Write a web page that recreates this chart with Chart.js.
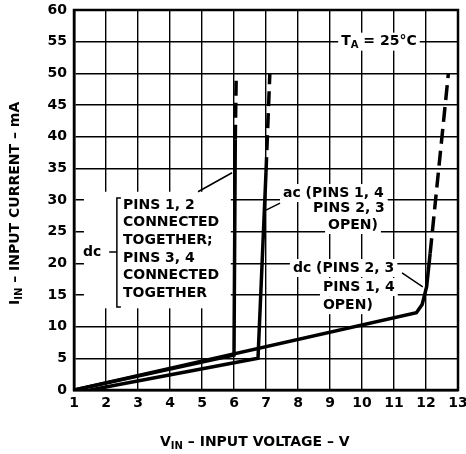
<!DOCTYPE html>
<html><head><meta charset="utf-8">
<script src="https://cdn.jsdelivr.net/npm/chart.js@4.4.1/dist/chart.umd.min.js"></script>
<style>html,body{margin:0;padding:0;background:#fff}canvas{display:block}</style>
</head><body>
<canvas id="c" width="466" height="454"></canvas>
<script>
// axis ranges / ticks
const xTicks = [1,2,3,4,5,6,7,8,9,10,11,12,13];
const yTicks = [0,5,10,15,20,25,30,35,40,45,50,55,60];

// dc, pins 1,2 and 3,4 connected together
const dcTogetherV = [1, 6.0, 6.04, 6.07];
const dcTogetherI = [0, 5.5, 39.5, 50];
// ac, pins 1,4 / pins 2,3 open
const acV = [1.5, 6.75, 7.0, 7.12];
const acI = [0, 5.0, 34.4, 50];
// dc, pins 2,3 / pins 1,4 open
const dcOpenV = [1, 11.7, 11.88, 12.02, 12.13, 12.7];
const dcOpenI = [0, 12.2, 13.5, 16.3, 21.6, 50];
// current above which each curve is dashed
const dashAbove = [39.5, 34.4, 21.6];

const FONT = 'bold 14px "DejaVu Sans"';
const SUB = 'bold 10px "DejaVu Sans"';

function pts(vs, is){ return vs.map((v,k)=>({x:v, y:is[k]})); }
function curve(vs, is, lim){
  return {
    data: pts(vs, is), borderColor:'#000', borderWidth:3.5, pointRadius:0, tension:0, fill:false,
    segment:{ borderDash: ctx => ctx.p0.parsed.y >= lim - 0.01 ? [15,7] : [] }
  };
}

// draw a line of text made of normal / subscript parts, baseline middle
function rich(ctx, parts, x, y, bg){
  let w = 0;
  parts.forEach(p => { ctx.font = p.sub ? SUB : FONT; w += ctx.measureText(p.t).width; });
  if(bg){ ctx.fillStyle='#fff'; ctx.fillRect(x-3, y-9, w+6, 18); }
  ctx.fillStyle='#000'; ctx.textBaseline='middle'; ctx.textAlign='left';
  let cx = x;
  parts.forEach(p => {
    ctx.font = p.sub ? SUB : FONT;
    ctx.fillText(p.t, cx, y + (p.sub ? 4 : 0));
    cx += ctx.measureText(p.t).width;
  });
}
const T = t => [{t}];

const notes = {
  id:'notes',
  afterDatasetsDraw(chart){
    const {ctx, chartArea:a} = chart;
    const X = v => chart.scales.x.getPixelForValue(v);
    const Y = i => chart.scales.y.getPixelForValue(i);
    ctx.save();
    // frame
    ctx.strokeStyle='#000'; ctx.lineWidth=2.5;
    ctx.strokeRect(a.left, a.top, a.right-a.left, a.bottom-a.top);

    // T_A label
    rich(ctx, [{t:'T'},{t:'A',sub:true},{t:' = 25°C'}], X(9.35), Y(55), true);

    // left bracket label
    ctx.fillStyle='#fff';
    ctx.fillRect(X(1.31), Y(31.3), X(5.9)-X(1.31), Y(12.9)-Y(31.3));
    const left = ['PINS 1, 2','CONNECTED','TOGETHER;','PINS 3, 4','CONNECTED','TOGETHER'];
    left.forEach((s,k) => rich(ctx, T(s), X(2.53), Y(29.2)+k*17.6, false));
    rich(ctx, T('dc'), X(1.59)-10, Y(21.8), false);
    ctx.strokeStyle='#000'; ctx.lineWidth=1.5;
    ctx.beginPath();
    ctx.moveTo(X(2.34)+4, Y(30.3)); ctx.lineTo(X(2.34), Y(30.3));
    ctx.lineTo(X(2.34), Y(13.1)); ctx.lineTo(X(2.34)+4, Y(13.1));
    ctx.moveTo(X(2.1), Y(21.8)); ctx.lineTo(X(2.34), Y(21.8));
    // leaders
    ctx.moveTo(X(4.875), Y(31.3)); ctx.lineTo(X(5.94), Y(34.3));
    ctx.moveTo(X(7.0), Y(28.4)); ctx.lineTo(X(7.44), Y(29.5));
    ctx.moveTo(X(11.25), Y(18.5)); ctx.lineTo(X(11.9), Y(16.3));
    ctx.stroke();

    // ac label
    rich(ctx, T('ac (PINS 1, 4'), X(7.53), Y(31.1), true);
    rich(ctx, T('PINS 2, 3'), X(8.47), Y(28.7), true);
    rich(ctx, T('OPEN)'), X(8.94), Y(26.05), true);
    // dc open label
    rich(ctx, T('dc (PINS 2, 3'), X(7.84), Y(19.26), true);
    rich(ctx, T('PINS 1, 4'), X(8.78), Y(16.26), true);
    rich(ctx, T('OPEN)'), X(8.78), Y(13.4), true);

    // axis titles
    rich(ctx, [{t:'V'},{t:'IN',sub:true},{t:' – INPUT VOLTAGE – V'}], 160, 442, false);
    ctx.translate(15, 305); ctx.rotate(-Math.PI/2);
    rich(ctx, [{t:'I'},{t:'IN',sub:true},{t:' – INPUT CURRENT – mA'}], 0, 0, false);
    ctx.restore();
  }
};

new Chart(document.getElementById('c'), {
  type:'line',
  data:{ datasets:[
    curve(dcTogetherV, dcTogetherI, dashAbove[0]),
    curve(acV, acI, dashAbove[1]),
    curve(dcOpenV, dcOpenI, dashAbove[2])
  ]},
  options:{
    responsive:false, animation:false,
    layout:{ padding:{ left:0, top:10, right:8, bottom:0 } },
    plugins:{ legend:{ display:false }, tooltip:{ enabled:false } },
    scales:{
      x:{ type:'linear', min:xTicks[0], max:xTicks[xTicks.length-1],
        afterBuildTicks: s => { s.ticks = xTicks.map(v=>({value:v})); },
        afterFit: s => { s.height = 64; s.paddingLeft = 0; s.paddingRight = 0; },
        ticks:{ color:'#000', font:{ family:'DejaVu Sans', size:14, weight:'bold' }, padding:5, maxRotation:0, autoSkip:false },
        grid:{ color:'#000', lineWidth:1.4, drawTicks:false },
        border:{ color:'#000', width:2.5 } },
      y:{ type:'linear', min:yTicks[0], max:yTicks[yTicks.length-1],
        afterBuildTicks: s => { s.ticks = yTicks.map(v=>({value:v})); },
        afterFit: s => { s.width = 74; s.paddingTop = 0; s.paddingBottom = 0; },
        ticks:{ color:'#000', font:{ family:'DejaVu Sans', size:14, weight:'bold' }, padding:7, autoSkip:false },
        grid:{ color:'#000', lineWidth:1.4, drawTicks:false },
        border:{ color:'#000', width:2.5 } }
    }
  },
  plugins:[notes]
});
</script>
</body></html>
